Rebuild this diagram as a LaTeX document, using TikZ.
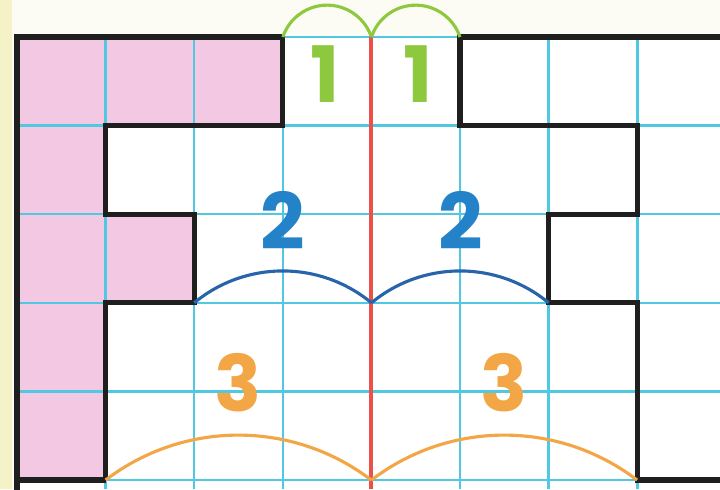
\documentclass[tikz,border=0pt]{standalone}
\usepackage{fontspec}
\setsansfont{Poppins}
\usepackage{tikz}
\usepackage{xcolor}
\definecolor{papercolor}{RGB}{253,252,244}
\definecolor{edgecolor}{RGB}{246,242,200}
\definecolor{shadecolor}{RGB}{242,200,226}
\definecolor{gridcolor}{RGB}{80,200,226}
\definecolor{axiscolor}{RGB}{236,80,72}
\definecolor{onecolor}{RGB}{142,200,62}
\definecolor{twocolor}{RGB}{36,130,200}
\definecolor{twoarccolor}{RGB}{40,100,170}
\definecolor{threecolor}{RGB}{242,166,70}

\tikzset{
  digit/.style={font=\sffamily\bfseries\fontsize{25}{25}\selectfont, inner sep=0pt},
  outline/.style={line width=1.7pt, black!88, line join=miter},
  span/.style={line width=1pt}
}

\begin{document}
\begin{tikzpicture}
\useasboundingbox (-0.192,-0.101) rectangle (7.934,5.418);
\clip (-0.192,-0.101) rectangle (7.934,5.418);

% Paper
\fill[papercolor] (-0.192,-0.101) rectangle (7.934,5.418);
\fill[edgecolor] (-0.192,-0.101) rectangle (-0.06,5.418);
\fill[white] (0,-0.101) rectangle (7.934,5);

% Shaded part (left)
\fill[shadecolor] (0,-0.101) -- (0,5) -- (3,5) -- (3,4) -- (1,4) -- (1,3) -- (2,3)
  -- (2,2) -- (1,2) -- (1,0) -- (0,0) -- cycle;

% Grid
\draw[gridcolor, line width=0.8pt] (0,-0.101) grid (7.934,5);

% Axis of symmetry
\draw[axiscolor, line width=1.3pt] (4,5) -- (4,-0.101);

% Left figure
\draw[outline] (0,-0.2) -- (0,5) -- (3,5) -- (3,4) -- (1,4) -- (1,3) -- (2,3)
  -- (2,2) -- (1,2) -- (1,0);
\draw[outline] (0,0) -- (1,0);

% Right figure (reflection)
\draw[outline] (8.1,5) -- (5,5) -- (5,4) -- (7,4) -- (7,3) -- (6,3) -- (6,2)
  -- (7,2) -- (7,0) -- (8.1,0);

% Distances to the axis
\draw[span, onecolor] (3,5) arc[start angle=161.5, end angle=18.5, radius=0.527];
\draw[span, onecolor] (4,5) arc[start angle=161.5, end angle=18.5, radius=0.527];
\draw[span, twoarccolor] (2,2) arc[start angle=129.6, end angle=50.4, radius=1.569];
\draw[span, twoarccolor] (4,2) arc[start angle=129.6, end angle=50.4, radius=1.569];
\draw[span, threecolor] (1,0) arc[start angle=127.4, end angle=52.6, radius=2.468];
\draw[span, threecolor] (4,0) arc[start angle=127.4, end angle=52.6, radius=2.468];

% Labels
\node[digit, onecolor] (oneleft) at (3.48,4.58) {1};
\node[digit, onecolor] (oneright) at (4.53,4.58) {1};
\node[digit, twocolor] (twoleft) at (3,2.93) {2};
\node[digit, twocolor] (tworight) at (5.01,2.93) {2};
\node[digit, threecolor] (threeleft) at (2.5,1.1) {3};
\node[digit, threecolor] (threeright) at (5.5,1.1) {3};

\end{tikzpicture}
\end{document}
